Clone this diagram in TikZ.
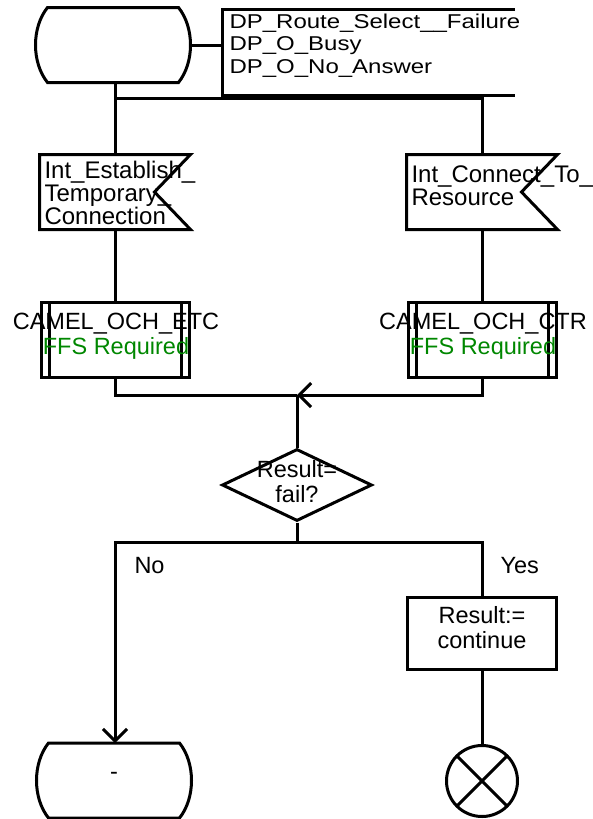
\documentclass[tikz,border=0pt]{standalone}
\usepackage{fontspec}
\setmainfont{Liberation Sans}
\newfontfamily\dpfont[FakeStretch=1.2]{Liberation Sans}
\usetikzlibrary{shapes.geometric,arrows.meta}
\definecolor{ffsgreen}{RGB}{0,135,0}
% outlines of the state and input symbols, drawn round a plain node
\newcommand{\stateoutline}[1]{\draw ([xshift=12pt]#1.north west) -- ([xshift=-12pt]#1.north east)
  .. controls ([xshift=4pt,yshift=-20pt]#1.north east) and ([xshift=4pt,yshift=20pt]#1.south east) .. ([xshift=-12pt]#1.south east)
  -- ([xshift=12pt]#1.south west)
  .. controls ([xshift=-4pt,yshift=20pt]#1.south west) and ([xshift=-4pt,yshift=-20pt]#1.north west) .. ([xshift=12pt]#1.north west) -- cycle;}
\newcommand{\inputoutline}[1]{\draw (#1.north west) -- (#1.north east) -- ([xshift=-36pt]#1.east) -- (#1.south east) -- (#1.south west) -- cycle;}

\begin{document}
\begin{tikzpicture}[x=1pt, y=-1pt, line width=3pt,
  every node/.style={font=\fontsize{23.5}{25}\selectfont, inner sep=0pt},
  statebox/.style={rectangle, minimum width=152, minimum height=72},
  inputsig/.style={rectangle, minimum width=148, minimum height=72},
  sigtext/.style={anchor=north west, align=left, font=\fontsize{24}{22.8}\selectfont},
  procbox/.style={draw, rectangle, minimum width=148, minimum height=75,
    path picture={\draw ([xshift=8pt]path picture bounding box.north west) -- ([xshift=8pt]path picture bounding box.south west);
      \draw ([xshift=-8pt]path picture bounding box.north east) -- ([xshift=-8pt]path picture bounding box.south east);}},
  proctext/.style={align=center},
  decision/.style={draw, diamond, minimum width=150, minimum height=72},
  taskbox/.style={draw, rectangle, minimum width=149, minimum height=72},
  stopsym/.style={draw, circle, minimum size=71,
    path picture={\draw (path picture bounding box.north west) -- (path picture bounding box.south east);
      \draw (path picture bounding box.north east) -- (path picture bounding box.south west);}},
  barb/.style={-{Straight Barb[length=12pt,width=24pt]}}]
\useasboundingbox (0,0) rectangle (593,819);

% start state and its detection points
\node[statebox] (start) at (113,45) {}; \stateoutline{start}
\coordinate (notel) at (222,45);
\draw (515,9) -| (222,95) -- (515,95);
\node[anchor=north west, align=left, font=\dpfont\fontsize{20}{22.5}\selectfont] (dpnote) at (228,12.5) {DP\_Route\_Select\_\_Failure\\DP\_O\_Busy\\DP\_O\_No\_Answer};
\draw (start.east) -- (notel);

% the two inputs
\coordinate (fork) at (115,98);
\node[inputsig] (estab) at (115,192) {}; \inputoutline{estab}
\node[sigtext] (estabtxt) at (43,160) {Int\_Establish\_\\Temporary\_\\Connection};
\node[inputsig] (conn) at (482,192) {}; \inputoutline{conn}
\node[sigtext] (conntxt) at (410,164) {Int\_Connect\_To\_\\Resource};
\draw (fork |- start.south) -- (estab.north); \draw (fork) -| (conn.north);

% procedure calls
\node[procbox] (etc) at (115,339.5) {};
\node[proctext] (etctxt) at (116,336.5) {CAMEL\_OCH\_ETC\\\textcolor{ffsgreen}{FFS Required}};
\node[procbox] (ctr) at (482,339.5) {};
\node[proctext] (ctrtxt) at (483,336.5) {CAMEL\_OCH\_CTR\\\textcolor{ffsgreen}{FFS Required}};
\draw (estab.south) -- (etc.north); \draw (conn.south) -- (ctr.north);

% join and decision
\coordinate (merge) at (297,395);
\draw (etc.south) |- (merge); \draw[barb] (ctr.south) |- (merge);
\node[decision] (fail) at (297,485) {};
\node[align=center] (failtxt) at (297,481.5) {Result=\\fail?};
\draw (merge) -- (fail.north);

% branches
\coordinate (split) at (297,542);
\node[anchor=base west] (no) at (133,573) {No};
\node[anchor=base west] (yes) at (499,573) {Yes};
\node[taskbox] (cont) at (482,633) {};
\node[proctext] (conttxt) at (482,627.5) {Result:=\\continue};
\node[statebox, text depth=9pt] (endst) at (114,780.5) {-}; \stateoutline{endst}
\node[stopsym] (stop) at (482,781) {};
\draw (fail.south) -- (split);
\draw[barb] (split) -| ([xshift=1pt]endst.north); \draw (split) -| (cont.north);
\draw (cont.south) -- (stop.north);
\end{tikzpicture}
\end{document}
